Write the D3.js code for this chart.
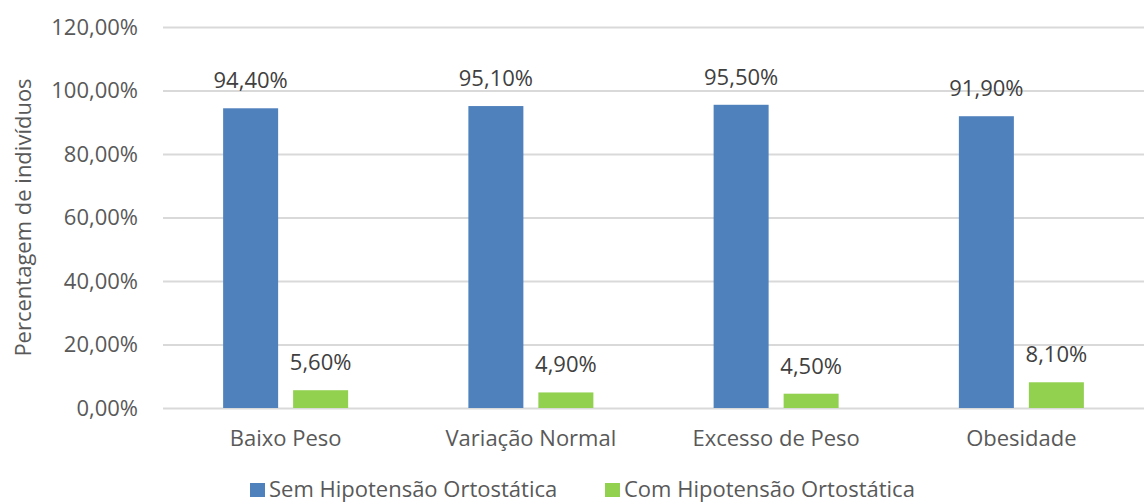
<!DOCTYPE html>
<html>
<head>
<meta charset="utf-8">
<script src="https://cdn.jsdelivr.net/npm/d3@7"></script>
<style>
  html, body { margin: 0; padding: 0; background: #ffffff; }
  svg { display: block; }
  text { font-family: "Open Sans", "DejaVu Sans", sans-serif; }
</style>
</head>
<body>
<svg id="chart" width="1144" height="504"></svg>
<script>
// Categories (BMI classes) and the two series, in percent
const categories = ["Baixo Peso", "Variação Normal", "Excesso de Peso", "Obesidade"];
const seriesNames = ["Sem Hipotensão Ortostática", "Com Hipotensão Ortostática"];
const semHipotensao = [94.4, 95.1, 95.5, 91.9];
const comHipotensao = [5.6, 4.9, 4.5, 8.1];
const yTicks = [0, 20, 40, 60, 80, 100, 120];
const seriesColors = ["#4f81bd", "#92d050"];

const seriesValues = [semHipotensao, comHipotensao];

const W = 1144, H = 504;
const margin = { top: 27, right: 0, bottom: 96, left: 163 };
const FS = "22px";

const svg = d3.select("#chart");

const pt = d3.formatLocale({ decimal: ",", thousands: ".", grouping: [3], currency: ["", ""] });
const fmt = v => pt.format(".2f")(v) + "%";

const x0 = d3.scaleBand()
  .domain(categories)
  .range([margin.left, W - margin.right])
  .paddingInner(0)
  .paddingOuter(0);

// Two bars of equal width inside each category slot, separated by a small gap
const groupWidth = 125;
const x1 = d3.scaleBand()
  .domain(seriesNames)
  .range([-groupWidth / 2, groupWidth / 2])
  .paddingInner(2 - groupWidth / 70)
  .paddingOuter(0);

const y = d3.scaleLinear()
  .domain([0, 120])
  .range([H - margin.bottom, margin.top]);

// Horizontal gridlines and percentage tick labels
const yAxis = d3.axisLeft(y)
  .tickValues(yTicks)
  .tickSize(-(W - margin.left - margin.right))
  .tickPadding(25)
  .tickFormat(fmt);

const gy = svg.append("g")
  .attr("transform", `translate(${margin.left},0)`)
  .call(yAxis);
gy.select(".domain").remove();
gy.selectAll(".tick line").attr("stroke", "#d9d9d9").attr("stroke-width", 2);
gy.selectAll(".tick text")
  .attr("fill", "#595959")
  .style("font-size", FS)
  .style("font-family", "'Open Sans', sans-serif");

// Category labels along the bottom
const xAxis = d3.axisBottom(x0).tickSize(0).tickPadding(22);
const gx = svg.append("g")
  .attr("transform", `translate(0,${y(0)})`)
  .call(xAxis);
gx.select(".domain").remove();
gx.selectAll(".tick text")
  .attr("fill", "#595959")
  .style("font-size", FS)
  .style("font-family", "'Open Sans', sans-serif");

// Bars
const rows = categories.map((c, i) => ({
  category: c,
  values: seriesNames.map((s, j) => ({ series: s, value: seriesValues[j][i], color: seriesColors[j] }))
}));

const groups = svg.append("g").selectAll("g")
  .data(rows)
  .join("g")
  .attr("transform", d => `translate(${x0(d.category) + x0.bandwidth() / 2},0)`);

groups.selectAll("rect")
  .data(d => d.values)
  .join("rect")
  .attr("x", d => x1(d.series))
  .attr("width", x1.bandwidth())
  .attr("y", d => y(d.value))
  .attr("height", d => y(0) - y(d.value))
  .attr("fill", d => d.color);

// Value labels above each bar
groups.selectAll("text.val")
  .data(d => d.values)
  .join("text")
  .attr("class", "val")
  .attr("x", d => x1(d.series) + x1.bandwidth() / 2)
  .attr("y", d => y(d.value) - 20)
  .attr("text-anchor", "middle")
  .attr("fill", "#404040")
  .style("font-size", FS)
  .text(d => fmt(d.value));

// Y axis title
svg.append("text")
  .attr("transform", `translate(31,${(y(0) + y(120)) / 2}) rotate(-90)`)
  .attr("text-anchor", "middle")
  .attr("fill", "#595959")
  .style("font-size", FS)
  .text("Percentagem de indivíduos");

// Legend
const legendX = [250, 605];
const legend = svg.append("g").selectAll("g")
  .data(seriesNames)
  .join("g")
  .attr("transform", (d, i) => `translate(${legendX[i]},483)`);
legend.append("rect")
  .attr("x", 0).attr("y", 0)
  .attr("width", 15).attr("height", 14)
  .attr("fill", (d, i) => seriesColors[i]);
legend.append("text")
  .attr("x", 19).attr("y", 14)
  .attr("fill", "#595959")
  .style("font-size", FS)
  .text(d => d);
</script>
</body>
</html>
